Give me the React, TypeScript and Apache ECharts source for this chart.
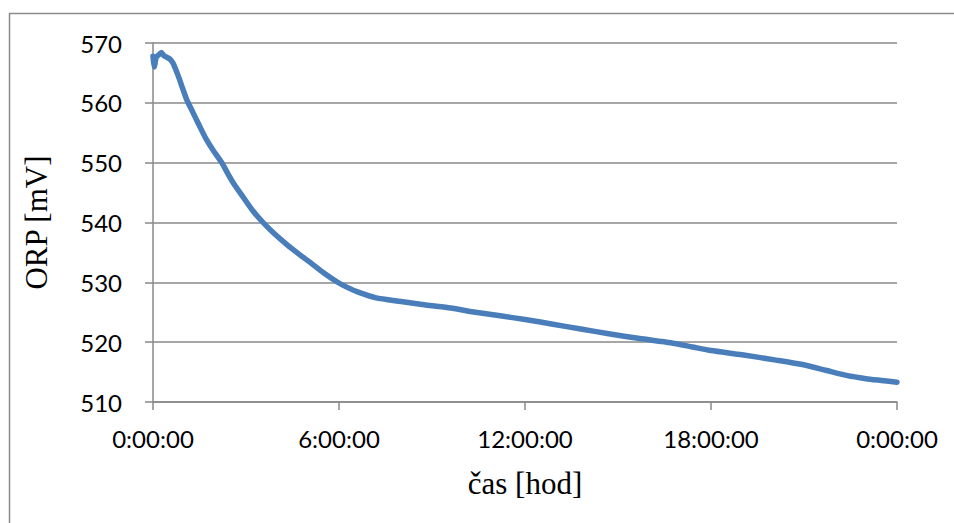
import React, { useEffect, useRef } from "react";
import * as echarts from "echarts";

const hours = [0, 0.03, 0.06, 0.1, 0.18, 0.27, 0.35, 0.45, 0.55, 0.65, 0.74, 0.85, 0.97, 1.09, 1.25, 1.41, 1.57, 1.73, 1.95, 2.22, 2.4, 2.58, 2.9, 3.2, 3.55, 3.9, 4.3, 4.74, 5.1, 5.5, 5.93, 6.25, 6.6, 7.2, 8.0, 8.8, 9.6, 10.4, 11.2, 12.0, 12.9, 13.8, 14.7, 15.7, 16.7, 17.4, 18.0, 19.0, 20.1, 20.9, 21.7, 22.4, 23.0, 23.5, 24.0];
const orp = [567.8, 566.0, 566.4, 567.6, 568.0, 568.4, 567.9, 567.6, 567.3, 566.6, 565.5, 564.0, 562.2, 560.5, 558.8, 557.1, 555.4, 553.8, 552.0, 550.0, 548.3, 546.7, 544.3, 542.1, 540.0, 538.2, 536.4, 534.6, 533.2, 531.6, 530.1, 529.2, 528.4, 527.4, 526.8, 526.2, 525.7, 525.0, 524.4, 523.8, 523.0, 522.2, 521.4, 520.6, 519.9, 519.2, 518.6, 517.9, 517.0, 516.3, 515.3, 514.4, 513.9, 513.6, 513.3];

const xTicks = [0, 6, 12, 18, 24];

export default function App() {
  const ref = useRef<HTMLDivElement>(null);
  useEffect(() => {
    const chart = echarts.init(ref.current!, undefined, { renderer: "svg" });
    const data = hours.map((h, i) => [h, orp[i]]);
    const axisGray = "#898989";
    chart.setOption({
      animation: false,
      backgroundColor: "#ffffff",
      graphic: [
        {
          type: "rect",
          shape: { x: 9.5, y: 13.5, width: 970, height: 540 },
          style: { fill: "none", stroke: "#8c8c8c", lineWidth: 1.5 },
          silent: true,
        },
      ],
      grid: { left: 153, top: 43, right: 57, bottom: 121, containLabel: false },
      xAxis: {
        type: "value",
        min: 0,
        max: 24,
        interval: 6,
        name: "čas [hod]",
        nameLocation: "middle",
        nameGap: 66,
        nameTextStyle: { fontFamily: "Liberation Serif", fontSize: 31, color: "#000" },
        axisLine: { show: true, onZero: false, lineStyle: { color: axisGray, width: 1.5 } },
        axisTick: { show: true, inside: false, length: 8, lineStyle: { color: axisGray, width: 1.5 } },
        splitLine: { show: false },
        axisLabel: {
          margin: 24,
          fontFamily: "Lato",
          fontSize: 24,
          color: "#000",
          formatter: (v: number) => `${v % 24}:00:00`,
        },
        data: xTicks,
      },
      yAxis: {
        type: "value",
        min: 510,
        max: 570,
        interval: 10,
        name: "ORP [mV]",
        nameLocation: "middle",
        nameRotate: 90,
        nameGap: 101,
        nameTextStyle: { fontFamily: "Liberation Serif", fontSize: 31, color: "#000" },
        axisLine: { show: true, lineStyle: { color: axisGray, width: 1.5 } },
        axisTick: { show: true, inside: false, length: 8, lineStyle: { color: axisGray, width: 1.5 } },
        splitLine: { show: true, lineStyle: { color: axisGray, width: 1.5 } },
        axisLabel: { margin: 31, fontFamily: "Lato", fontSize: 24, color: "#000" },
      },
      series: [
        {
          type: "line",
          data,
          showSymbol: false,
          smooth: 0.2,
          lineStyle: { color: "#4A7EBB", width: 5.5, cap: "round", join: "round" },
        },
      ],
    });
    return () => chart.dispose();
  }, []);
  return (
    <div
      ref={ref}
      style={{ position: "absolute", left: 0, top: 0, width: 954, height: 523 }}
    />
  );
}
